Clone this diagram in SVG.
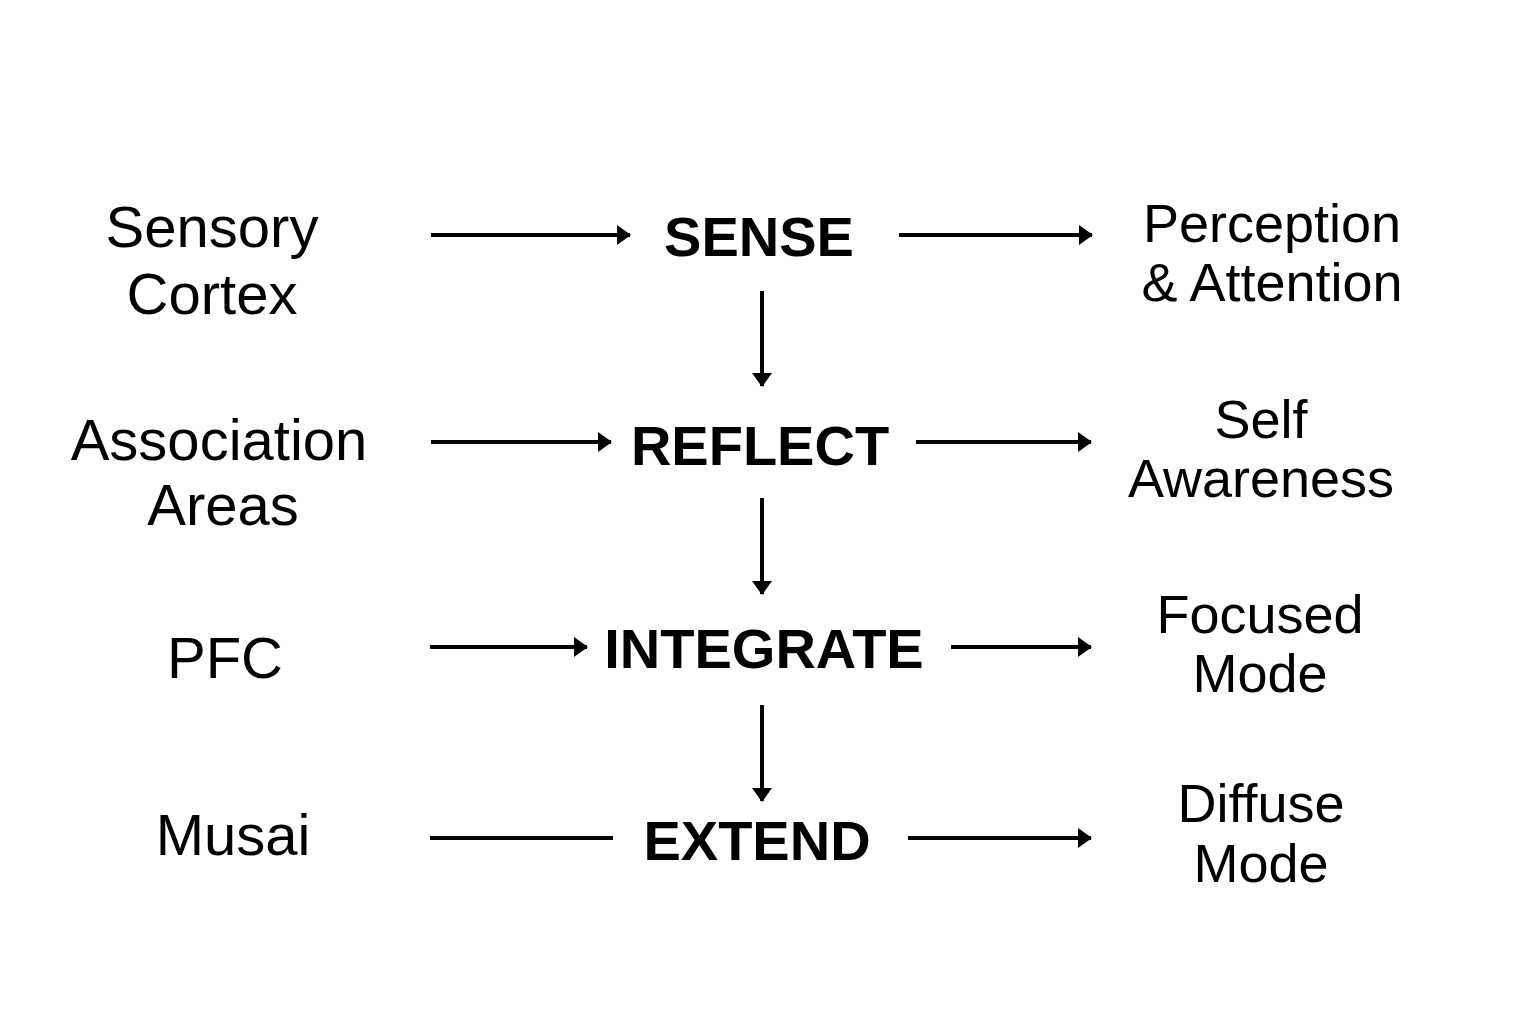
<svg xmlns="http://www.w3.org/2000/svg" width="1536" height="1024" viewBox="0 0 1536 1024">
<style>
.lbl{font-family:"Liberation Sans",Arial,sans-serif;font-size:58px;fill:#000;text-anchor:middle}
.out{font-family:"Liberation Sans",Arial,sans-serif;font-size:54px;fill:#000;text-anchor:middle}
.stage{font-family:"Liberation Sans",Arial,sans-serif;font-size:56px;font-weight:bold;fill:#000;text-anchor:middle}
.c{stroke:#000;stroke-width:4;fill:none}
</style>
<defs>
<marker id="ah" viewBox="0 0 14 20" refX="13" refY="10" markerWidth="14" markerHeight="20" markerUnits="userSpaceOnUse" orient="auto">
<path d="M0,0 L14,10 L0,20 Z" fill="#000"/>
</marker>
</defs>
<rect width="1536" height="1024" fill="#fff"/>
<g id="sensory-cortex"><text class="lbl" x="212" y="247">Sensory</text><text class="lbl" x="212" y="314">Cortex</text></g>
<g id="sense"><text class="stage" x="759" y="256">SENSE</text></g>
<g id="perception"><text class="out" x="1272" y="242">Perception</text><text class="out" x="1272" y="301">&amp; Attention</text></g>
<g id="association-areas"><text class="lbl" x="219" y="460">Association</text><text class="lbl" x="223" y="525">Areas</text></g>
<g id="reflect"><text class="stage" x="760" y="465">REFLECT</text></g>
<g id="self-awareness"><text class="out" x="1261" y="438">Self</text><text class="out" x="1261" y="497">Awareness</text></g>
<g id="pfc"><text class="lbl" x="225" y="678">PFC</text></g>
<g id="integrate"><text class="stage" x="764" y="668">INTEGRATE</text></g>
<g id="focused-mode"><text class="out" x="1260" y="633">Focused</text><text class="out" x="1260" y="692">Mode</text></g>
<g id="musai"><text class="lbl" x="233" y="855">Musai</text></g>
<g id="extend"><text class="stage" x="757" y="860">EXTEND</text></g>
<g id="diffuse-mode"><text class="out" x="1261" y="822">Diffuse</text><text class="out" x="1261" y="882">Mode</text></g>
<g id="connectors">
<line class="c" x1="431" y1="235" x2="630" y2="235" marker-end="url(#ah)"/>
<line class="c" x1="899" y1="235" x2="1092" y2="235" marker-end="url(#ah)"/>
<line class="c" x1="762" y1="291" x2="762" y2="386" marker-end="url(#ah)"/>
<line class="c" x1="431" y1="442" x2="611" y2="442" marker-end="url(#ah)"/>
<line class="c" x1="916" y1="442" x2="1091" y2="442" marker-end="url(#ah)"/>
<line class="c" x1="762" y1="498" x2="762" y2="594" marker-end="url(#ah)"/>
<line class="c" x1="430" y1="647" x2="587" y2="647" marker-end="url(#ah)"/>
<line class="c" x1="951" y1="647" x2="1091" y2="647" marker-end="url(#ah)"/>
<line class="c" x1="762" y1="705" x2="762" y2="801" marker-end="url(#ah)"/>
<line class="c" x1="430" y1="838" x2="613" y2="838"/>
<line class="c" x1="908" y1="838" x2="1091" y2="838" marker-end="url(#ah)"/>
</g>
</svg>
